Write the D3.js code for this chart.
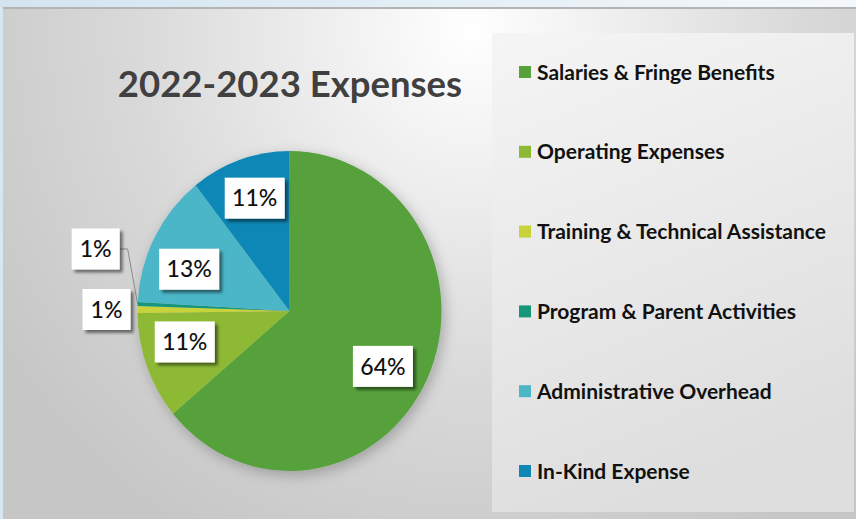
<!DOCTYPE html>
<html>
<head>
<meta charset="utf-8">
<script src="https://cdn.jsdelivr.net/npm/d3@7"></script>
<style>
  html, body { margin: 0; padding: 0; background: #d6e7f2; }
  svg { display: block; }
</style>
</head>
<body>
<div id="chart-area"></div>
<script>
// Data
const categories = [
  "Salaries & Fringe Benefits",
  "Operating Expenses",
  "Training & Technical Assistance",
  "Program & Parent Activities",
  "Administrative Overhead",
  "In-Kind Expense"
];
const shares = [63.9, 10.9, 0.7, 0.4, 13.5, 10.6];
const shareLabels = ["64%", "11%", "1%", "1%", "13%", "11%"];
const sliceColors = ["#56a13b", "#8db935", "#c8d33b", "#17967a", "#4cb6c7", "#1187b5"];
const titleText = "2022-2023 Expenses";

const svgWidth = 856;
const svgHeight = 519;

const svg = d3.select("#chart-area")
  .append("svg")
    .attr("width", svgWidth)
    .attr("height", svgHeight);

const defs = svg.append("defs");

// page frame gradient (light blue strip on top)
const topGrad = defs.append("linearGradient").attr("id", "topGrad");
topGrad.append("stop").attr("offset", "0%").attr("stop-color", "#d3e4f0");
topGrad.append("stop").attr("offset", "100%").attr("stop-color", "#f4f8fb");

// chart area background
const bgGrad = defs.append("radialGradient")
  .attr("id", "bgGrad")
  .attr("gradientUnits", "userSpaceOnUse")
  .attr("cx", 470).attr("cy", 30).attr("r", 560)
  .attr("gradientTransform", "translate(470,30) scale(1,1.05) translate(-470,-30)");
bgGrad.append("stop").attr("offset", "0%").attr("stop-color", "#ffffff");
bgGrad.append("stop").attr("offset", "60%").attr("stop-color", "#d9d9d9");
bgGrad.append("stop").attr("offset", "100%").attr("stop-color", "#c6c6c6");

const legendGrad = defs.append("linearGradient")
  .attr("id", "legendGrad")
  .attr("x1", 0).attr("y1", 0).attr("x2", 0.3).attr("y2", 1);
legendGrad.append("stop").attr("offset", "0%").attr("stop-color", "#f5f5f5");
legendGrad.append("stop").attr("offset", "100%").attr("stop-color", "#dedede");

const pieShadow = defs.append("filter").attr("id", "pieShadow")
  .attr("x", "-20%").attr("y", "-20%").attr("width", "140%").attr("height", "140%");
pieShadow.append("feGaussianBlur").attr("in", "SourceAlpha").attr("stdDeviation", 7);
pieShadow.append("feOffset").attr("dx", 3).attr("dy", 4).attr("result", "b");
pieShadow.append("feComponentTransfer").append("feFuncA").attr("type", "linear").attr("slope", 0.25);
const pm = pieShadow.append("feMerge");
pm.append("feMergeNode");
pm.append("feMergeNode").attr("in", "SourceGraphic");

const boxShadow = defs.append("filter").attr("id", "boxShadow")
  .attr("x", "-30%").attr("y", "-30%").attr("width", "160%").attr("height", "160%");
boxShadow.append("feGaussianBlur").attr("in", "SourceAlpha").attr("stdDeviation", 1.5);
boxShadow.append("feOffset").attr("dx", 3).attr("dy", 3).attr("result", "b");
boxShadow.append("feComponentTransfer").append("feFuncA").attr("type", "linear").attr("slope", 0.5);
const bm = boxShadow.append("feMerge");
bm.append("feMergeNode");
bm.append("feMergeNode").attr("in", "SourceGraphic");

// frame
svg.append("rect")
  .attr("width", svgWidth).attr("height", 8)
  .attr("fill", "url(#topGrad)");
svg.append("rect")
  .attr("x", 3).attr("y", 8)
  .attr("width", svgWidth - 3).attr("height", svgHeight - 8)
  .attr("fill", "url(#bgGrad)");
svg.append("line")
  .attr("x1", 3).attr("x2", svgWidth)
  .attr("y1", 8).attr("y2", 8)
  .attr("stroke", "#b4b4b4")
  .attr("stroke-width", 2);

// Title
svg.append("text")
  .text(titleText)
  .attr("x", 290)
  .attr("y", 97)
  .attr("text-anchor", "middle")
  .attr("font-family", "Lato")
  .attr("font-size", 36.5)
  .attr("font-weight", 700)
  .attr("fill", "#404040");

// Pie
const cx = 289.5, cy = 311;
const radius = 160;
const squeeze = 0.95;

const pie = d3.pie().sort(null).value(d => d);
const arcs = pie(shares);
const arc = d3.arc().innerRadius(0).outerRadius(radius);
const labelArc = d3.arc().innerRadius(radius * 0.7).outerRadius(radius * 0.7);
const edgeArc = d3.arc().innerRadius(radius).outerRadius(radius);

const pieG = svg.append("g")
  .attr("transform", `translate(${cx},${cy}) scale(${squeeze},1)`)
  .attr("filter", "url(#pieShadow)");

pieG.selectAll("path")
  .data(arcs)
  .enter()
  .append("path")
    .attr("d", arc)
    .attr("fill", (d, i) => sliceColors[i]);

// label placement: inside slices near the centroid, tiny slices pushed outside
const toScreen = p => [cx + p[0] * squeeze, cy + p[1]];
const outsideShift = { 2: [-31, 0], 3: [-42, -55] };
const insideNudge = { 0: [-3, 8], 1: [-5, -8], 4: [-6, 10], 5: [0, -7] };

const labels = arcs.map((d, i) => {
  const small = outsideShift[i] !== undefined;
  let pos, edge = null;
  if (small) {
    edge = toScreen(edgeArc.centroid(d));
    pos = [edge[0] + outsideShift[i][0], edge[1] + outsideShift[i][1]];
  } else {
    const c = toScreen(labelArc.centroid(d));
    pos = [c[0] + insideNudge[i][0], c[1] + insideNudge[i][1]];
  }
  return { i, pos, edge, small, text: shareLabels[i] };
});

const boxH = 41;
const boxW = t => (t.length > 2 ? 60 : 48);

// leader line for the label lifted away from its slice
labels.filter(l => l.small && Math.abs(outsideShift[l.i][1]) > 5).forEach(l => {
  const bx = l.pos[0] + boxW(l.text) / 2;
  svg.append("polyline")
    .attr("points", [[bx, l.pos[1]], [bx + 8, l.pos[1]], l.edge].map(p => p.join(",")).join(" "))
    .attr("fill", "none")
    .attr("stroke", "#8a8a8a")
    .attr("stroke-width", 1);
});

const labelG = svg.selectAll(".slice-label")
  .data(labels)
  .enter()
  .append("g")
    .attr("class", "slice-label")
    .attr("transform", d => `translate(${d.pos[0]},${d.pos[1]})`);

labelG.append("rect")
  .attr("x", d => -boxW(d.text) / 2)
  .attr("y", -boxH / 2)
  .attr("width", d => boxW(d.text))
  .attr("height", boxH)
  .attr("fill", "#ffffff")
  .attr("filter", "url(#boxShadow)");

labelG.append("text")
  .text(d => d.text)
  .attr("text-anchor", "middle")
  .attr("dy", "0.36em")
  .attr("font-family", "Lato")
  .attr("font-size", 23)
  .attr("font-weight", 500)
  .attr("fill", "#111111");

// Legend
const legendBox = { x: 492, y: 33, w: 362, h: 479 };
svg.append("rect")
  .attr("x", legendBox.x).attr("y", legendBox.y)
  .attr("width", legendBox.w).attr("height", legendBox.h)
  .attr("fill", "url(#legendGrad)");

const legendY = d3.scalePoint()
  .domain(categories)
  .range([72, 471]);

const legendItems = svg.selectAll(".legend-item")
  .data(categories)
  .enter()
  .append("g")
    .attr("class", "legend-item")
    .attr("transform", d => `translate(519,${legendY(d)})`);

legendItems.append("rect")
  .attr("x", 0).attr("y", -6)
  .attr("width", 12).attr("height", 12)
  .attr("fill", (d, i) => sliceColors[i]);

legendItems.append("text")
  .text(d => d)
  .attr("x", 18)
  .attr("dy", "0.36em")
  .attr("font-family", "Lato")
  .attr("font-size", 21)
  .attr("font-weight", 700)
  .attr("fill", "#111111");
</script>
</body>
</html>
